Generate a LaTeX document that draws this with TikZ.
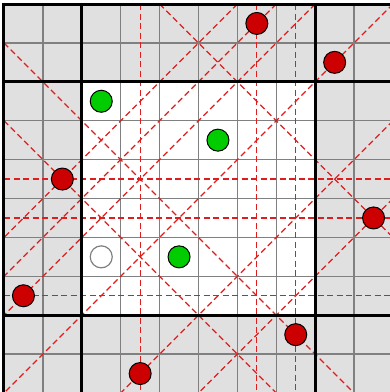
\documentclass[tikz,border=0pt]{standalone}
\definecolor{cellgray}{RGB}{224,224,224}
\definecolor{gridgray}{RGB}{128,128,128}
\definecolor{qred}{RGB}{204,0,0}
\definecolor{qgreen}{RGB}{0,204,0}
\definecolor{dashred}{RGB}{222,30,30}
\tikzset{
  attack/.style={draw=dashred, line width=1.25pt, dash pattern=on 6pt off 3.5pt},
  thickline/.style={draw=black, line width=3pt},
  gridline/.style={draw=gridgray, line width=1.4pt},
  queen/.style={circle, draw=black, line width=1pt, inner sep=0pt, minimum size=22pt},
  redq/.style={queen, fill=qred},
  greenq/.style={queen, fill=qgreen},
  emptyq/.style={queen, fill=white, draw=gridgray, line width=1.2pt}
}
\begin{document}
\begin{tikzpicture}[x=1pt,y=-1pt]
\useasboundingbox (0,0) rectangle (390,392);
\clip (0,0) rectangle (390,392);
\begin{scope}[shift={(4,4)}, x=38.9pt, y=-38.9pt]
  % cells
  \fill[cellgray] (0,0) rectangle (10,10);
  \fill[white] (2,2) rectangle (8,8);
  \foreach \i in {1,...,9} {
    \draw[gridline] (\i,0) -- (\i,10);
    \draw[gridline] (0,\i) -- (10,\i);
  }
  % attack lines
  \draw[attack] (3.5,0) -- (3.5,10);
  \draw[attack] (6.5,0) -- (6.5,10);
  \draw[attack] (7.5,0) -- (7.5,10);
  \draw[attack] (0,4.5) -- (10,4.5);
  \draw[attack] (0,5.5) -- (10,5.5);
  \draw[attack] (0,7.5) -- (10,7.5);
  \draw[attack] (0,3) -- (7,10);
  \draw[attack] (0,1) -- (9,10);
  \draw[attack] (4,0) -- (10,6);
  \draw[attack] (6,0) -- (0,6);
  \draw[attack] (7,0) -- (0,7);
  \draw[attack] (8,0) -- (0,8);
  \draw[attack] (10,0) -- (0,10);
  \draw[attack] (10,3) -- (3,10);
  \draw[attack] (10,5) -- (5,10);
  % thick frame
  \draw[thickline] (0,0) rectangle (10,10);
  \draw[thickline] (2,0) -- (2,10);
  \draw[thickline] (8,0) -- (8,10);
  \draw[thickline] (0,2) -- (10,2);
  \draw[thickline] (0,8) -- (10,8);
  % pieces
  \node[redq] (r1) at (6.5,0.5) {};
  \node[redq] (r2) at (8.5,1.5) {};
  \node[redq] (r3) at (1.5,4.5) {};
  \node[redq] (r4) at (9.5,5.5) {};
  \node[redq] (r5) at (0.5,7.5) {};
  \node[redq] (r6) at (7.5,8.5) {};
  \node[redq] (r7) at (3.5,9.5) {};
  \node[greenq] (g1) at (2.5,2.5) {};
  \node[greenq] (g2) at (5.5,3.5) {};
  \node[greenq] (g3) at (4.5,6.5) {};
  \node[emptyq] (e1) at (2.5,6.5) {};
\end{scope}
\end{tikzpicture}
\end{document}
